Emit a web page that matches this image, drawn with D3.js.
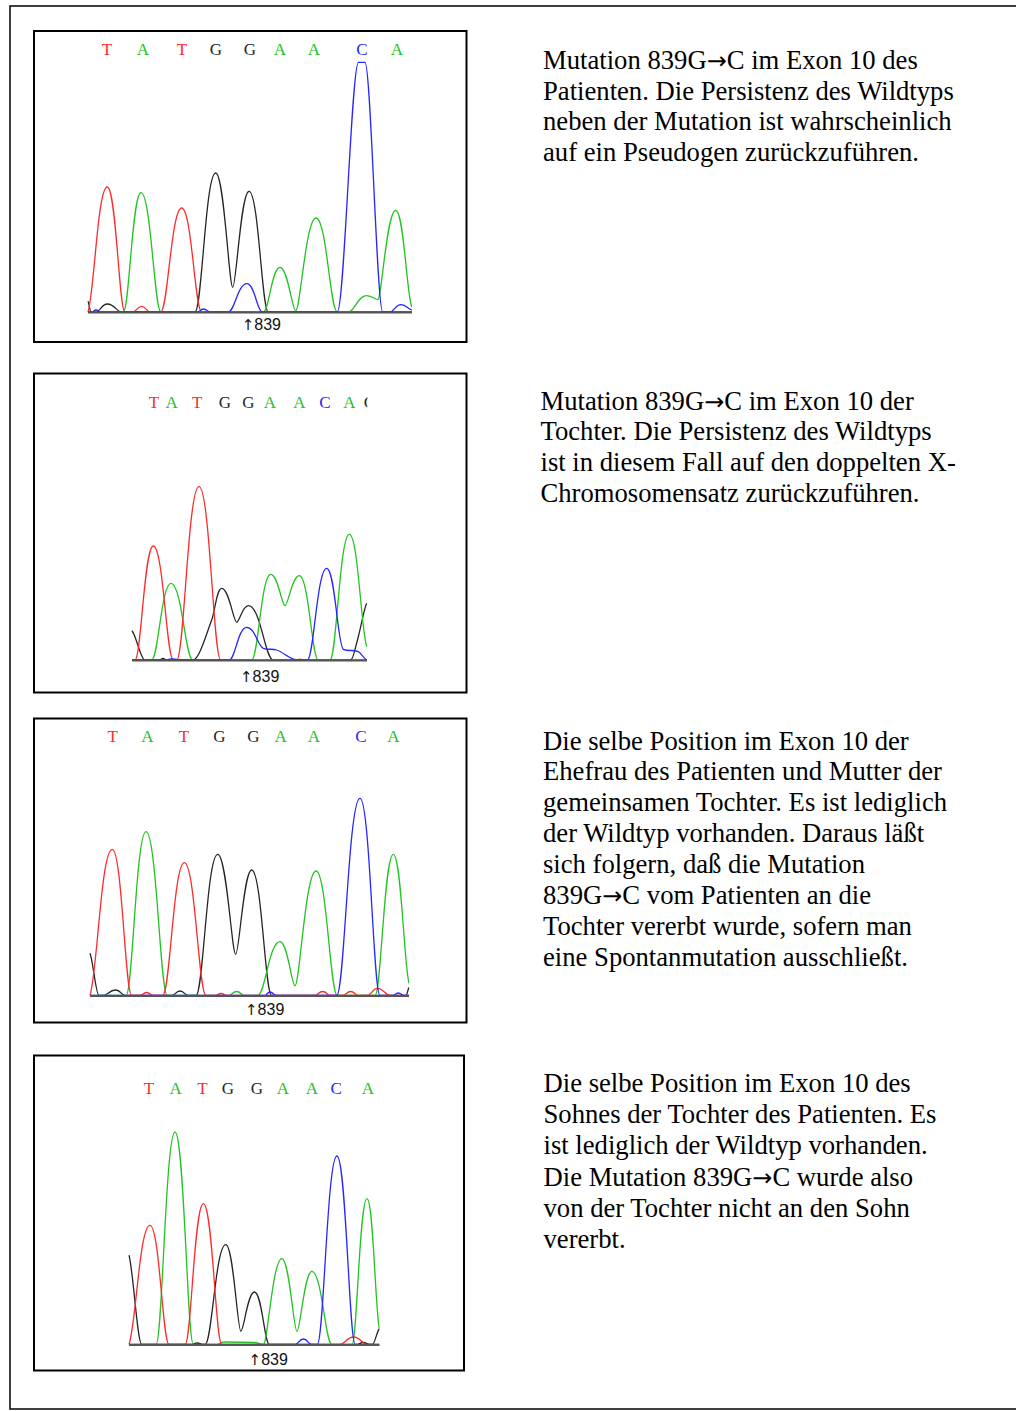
<!DOCTYPE html>
<html>
<head>
<meta charset="utf-8">
<script src="https://cdn.jsdelivr.net/npm/d3@7"></script>
<style>
  html, body { margin: 0; padding: 0; background: #fff; }
  svg { display: block; }
</style>
</head>
<body>
<svg id="chart" width="1016" height="1411"></svg>
<script>
// ---------------- DATA ----------------
// Base calls (sequence read) shown above every chromatogram
const bases = ["T", "A", "T", "G", "G", "A", "A", "C", "A"];
const p2Bases = ["T", "A", "T", "G", "G", "A", "A", "C", "A", "G"];

// Base-call scan positions per panel (scan units from start of the trace window)
const p1Calls = [19, 55, 94, 128, 162, 192, 226, 274, 309];
const p2Calls = [22, 39.7, 65.3, 93, 116.3, 138, 167.3, 193, 217.3, 238];
const p3Calls = [22.7, 57.3, 94, 129.3, 163.3, 190.7, 224, 271, 303.3];
const p4Calls = [20, 46.7, 73.3, 98.7, 127.7, 153.7, 182.7, 207, 238.7];

// Mutation position 839 (index of base call)
const mutationIndex = 4;
const mutationArrow = "\u2191";
const mutationNumber = "839";

// Trace knots: [scan, signal]
// Panel 1 – patient
const p1T = [[0,0],[19.3,125],[37,0],[45,0],[53.7,5.7],[62,0],[72.7,0],[93.7,104],[113.7,0],[324,0]];
const p1A = [[0,0],[35.3,0],[53,119.3],[73,0],[175.3,0],[192,44.7],[207.7,1],[228,94],[249.3,0],[260.3,0],[278.7,16.3],[289.7,12.3],[307.7,101.7],[323.7,5]];
const p1G = [[0,10.7],[3,0],[8,0],[19.3,8],[33.7,0],[107,0],[127.7,139],[144.7,24.7],[161,120.7],[180.3,0],[324,0]];
const p1C = [[0,0],[4,0],[8,2],[12,0],[110,0],[115.3,3],[122,0],[140.3,0],[159,28.3],[174.3,0],[249.3,0],[270.5,249.7],[277,249.7],[294.7,0],[302,0],[313,7.3],[323.7,2]];

// Panel 2 – daughter
const p2T = [[0,0],[3,0],[21.3,114],[41.3,0],[44.7,0],[67,173.3],[88.7,0],[165,0],[168,0.8],[171,0],[235,0]];
const p2A = [[0,0],[19.7,0],[39,76.7],[60.7,0],[119.7,0],[138.7,85.7],[153,54.3],[167.3,84.3],[186.3,0],[198,0],[217.3,125.7],[234.7,13.3]];
const p2G = [[0,29.3],[13,0],[28,0],[31,1.5],[34,0],[60.7,0],[79.7,40],[89.7,71.7],[104.7,37.7],[116.3,54.3],[141.3,0],[218.7,0],[226.3,23.3],[234.7,56.7]];
const p2C = [[0,0],[33,0],[40,1],[50,0],[97.3,0],[114.7,32.7],[131.3,11.7],[144.7,10],[161.3,1],[170,0],[175.3,0],[194.7,91.7],[211.3,10.7],[226.3,8.3],[234.7,0]];

// Panel 3 – wife
const p3T = [[0,0],[22.3,146.2],[41.7,0],[50,0],[56.7,3],[63,0],[72.7,0],[94.3,132.8],[116,0],[126,0],[131,2],[136,0],[225,0],[232.7,4],[240,0],[253,0],[260.7,4],[268,0],[278,0],[287.3,7.2],[300,0],[319,0]];
const p3A = [[0,0],[36,0],[56,163.8],[77.3,0],[139,0],[146.7,4],[154,0],[167.7,0],[190,53.8],[205,9.8],[226,124.5],[247.3,0],[285,0],[303.3,141.2],[319,12.2]];
const p3G = [[0,42.2],[9,0],[13,0],[25.7,5.5],[35,0],[82,0],[90,4.5],[98,0],[106,0],[127.7,141.2],[145.7,41.2],[161.7,125.5],[181.7,0],[316,0],[319,8]];
const p3C = [[0,0],[175,0],[180,3.5],[186,0],[246.7,0],[270,197.2],[290,0],[303,0],[308.3,2.5],[314,0],[319,0]];

// Panel 4 – grandson
const p4T = [[0,0],[21,119.2],[40,0],[56,0],[74.3,140.8],[92.7,0],[211,0],[224.3,7.5],[237.7,0],[250,0]];
const p4A = [[0,0],[27,0],[46,212.5],[64.3,0],[87.7,0],[95,2.5],[125,2],[134.3,0],[152.7,85.8],[167.7,13.2],[182.7,73.2],[202.7,0],[222.7,0],[237.7,145.8],[250,15.8]];
const p4G = [[0,89.2],[12.7,0],[63,0],[68,1.5],[74,0],[76,0],[96.7,99.8],[111.7,13.2],[125.3,52.5],[140.3,0],[228,0],[234,2],[240,0],[243,0],[250,15.8]];
const p4C = [[0,0],[166,0],[174.3,5.5],[182,0],[188,0],[207.7,188.5],[226,0],[250,0]];

// Captions (arrow marked as {→} so it can be set in a font that has the glyph)
const caption1 = [
  "Mutation 839G{\u2192}C im Exon 10 des",
  "Patienten. Die Persistenz des Wildtyps",
  "neben der Mutation ist wahrscheinlich",
  "auf ein Pseudogen zur\u00fcckzuf\u00fchren."
];
const caption2 = [
  "Mutation 839G{\u2192}C im Exon 10 der",
  "Tochter. Die Persistenz des Wildtyps",
  "ist in diesem Fall auf den doppelten X-",
  "Chromosomensatz zur\u00fcckzuf\u00fchren."
];
const caption3 = [
  "Die selbe Position im Exon 10 der",
  "Ehefrau des Patienten und Mutter der",
  "gemeinsamen Tochter. Es ist lediglich",
  "der Wildtyp vorhanden. Daraus l\u00e4\u00dft",
  "sich folgern, da\u00df die Mutation",
  "839G{\u2192}C vom Patienten an die",
  "Tochter vererbt wurde, sofern man",
  "eine Spontanmutation ausschlie\u00dft."
];
const caption4 = [
  "Die selbe Position im Exon 10 des",
  "Sohnes der Tochter des Patienten. Es",
  "ist lediglich der Wildtyp vorhanden.",
  "Die Mutation 839G{\u2192}C wurde also",
  "von der Tochter nicht an den Sohn",
  "vererbt."
];

// ---------------- LAYOUT / STYLE ----------------
const colors = { A: "#22c322", C: "#2626ff", G: "#262626", T: "#ff2a2a" };

const panels = [
  { box: [34, 31, 466.5, 342], x0: 88, x1: 412, len: 324, baseY: 312, letterY: 55.3, labelY: 330,
    traces: { A: p1A, C: p1C, G: p1G, T: p1T }, calls: p1Calls, seq: bases,
    caption: caption1, capX: 543, capY: 69, capLH: 30.7 },
  { box: [34, 373.5, 466.5, 692.5], x0: 132, x1: 367, len: 235, baseY: 660, letterY: 407.5, labelY: 681.5,
    traces: { A: p2A, C: p2C, G: p2G, T: p2T }, calls: p2Calls, seq: p2Bases,
    caption: caption2, capX: 540.5, capY: 409.5, capLH: 30.8 },
  { box: [34, 718.5, 466.5, 1022.5], x0: 90, x1: 409, len: 319, baseY: 995.5, letterY: 742.3, labelY: 1014.5,
    traces: { A: p3A, C: p3C, G: p3G, T: p3T }, calls: p3Calls, seq: bases,
    caption: caption3, capX: 543, capY: 749.5, capLH: 30.86 },
  { box: [34, 1055.5, 464, 1370.5], x0: 129, x1: 379.3, len: 250, baseY: 1344.5, letterY: 1094.3, labelY: 1364.5,
    traces: { A: p4A, C: p4C, G: p4G, T: p4T }, calls: p4Calls, seq: bases,
    caption: caption4, capX: 543.5, capY: 1092, capLH: 31.2 }
];

// ---------------- CURVE ----------------
// Smooth chromatogram-style path through knots (already scaled to pixels):
// monotone tangents, with rounder tops at maxima and tighter feet at the baseline.
function tracePath(pts) {
  const n = pts.length;
  const s = [];
  for (let i = 0; i < n - 1; i++) {
    const dx = pts[i + 1][0] - pts[i][0];
    s.push(dx === 0 ? 0 : (pts[i + 1][1] - pts[i][1]) / dx);
  }
  const m = new Array(n).fill(0);
  const kind = new Array(n).fill("mid");
  for (let i = 0; i < n; i++) {
    if (i === 0) { m[i] = s[0] * 0.5; continue; }
    if (i === n - 1) { m[i] = s[n - 2] * 0.5; continue; }
    const a = s[i - 1], b = s[i];
    if (a * b <= 0) {
      m[i] = 0;
      if (a < 0 && b > 0) kind[i] = "max";
      else if (a > 0 && b < 0) kind[i] = "min";
      else kind[i] = "flat";
    } else {
      let t = (a + b) / 2;
      const lim = 3 * Math.min(Math.abs(a), Math.abs(b));
      if (Math.abs(t) > lim) t = Math.sign(t) * lim;
      m[i] = t;
    }
  }
  const factor = (i) => {
    if (kind[i] === "max") return 0.5;
    if (kind[i] === "min") return 0.22;
    return 1 / 3;
  };
  const p = d3.path();
  p.moveTo(pts[0][0], pts[0][1]);
  for (let i = 0; i < n - 1; i++) {
    const [x0, y0] = pts[i], [x1, y1] = pts[i + 1];
    const dx = x1 - x0;
    const f0 = factor(i), f1 = factor(i + 1);
    p.bezierCurveTo(x0 + f0 * dx, y0 + f0 * dx * m[i], x1 - f1 * dx, y1 - f1 * dx * m[i + 1], x1, y1);
  }
  return p.toString();
}

// ---------------- DRAW ----------------
const svg = d3.select("#chart");

svg.append("rect")
  .attr("x", 10).attr("y", 6).attr("width", 1030).attr("height", 1403)
  .attr("fill", "none").attr("stroke", "#111").attr("stroke-width", 1.6);

const defs = svg.append("defs");

panels.forEach((p, i) => {
  const g = svg.append("g");
  const [bx0, by0, bx1, by1] = p.box;

  g.append("rect")
    .attr("x", bx0).attr("y", by0).attr("width", bx1 - bx0).attr("height", by1 - by0)
    .attr("fill", "#fff").attr("stroke", "#000").attr("stroke-width", 2);

  const x = d3.scaleLinear().domain([0, p.len]).range([p.x0, p.x1]);
  const y = d3.scaleLinear().domain([0, 300]).range([p.baseY, p.baseY - 300]);

  const clipId = "clip" + i;
  defs.append("clipPath").attr("id", clipId)
    .append("rect")
    .attr("x", p.x0 - 1).attr("y", by0 + 2)
    .attr("width", p.x1 - p.x0 + 1.5).attr("height", by1 - by0 - 4);

  const plot = g.append("g").attr("clip-path", `url(#${clipId})`);

  plot.selectAll("text.base")
    .data(p.seq.map((b, k) => ({ b, s: p.calls[k] })))
    .join("text")
    .attr("class", "base")
    .attr("x", d => x(d.s))
    .attr("y", p.letterY)
    .attr("text-anchor", "middle")
    .attr("font-family", "'Liberation Serif', 'Times New Roman', serif")
    .attr("font-size", 17)
    .attr("fill", d => colors[d.b])
    .text(d => d.b);

  ["G", "A", "T", "C"].forEach(ch => {
    plot.append("path")
      .datum(p.traces[ch].map(d => [x(d[0]), y(d[1])]))
      .attr("d", tracePath)
      .attr("fill", "none")
      .attr("stroke", colors[ch])
      .attr("stroke-width", 1.3)
      .attr("stroke-linejoin", "round");
  });

  g.append("line")
    .attr("x1", p.x0).attr("x2", p.x1)
    .attr("y1", p.baseY + 0.5).attr("y2", p.baseY + 0.5)
    .attr("stroke", "#555").attr("stroke-width", 2);

  const lbl = g.append("text")
    .attr("y", p.labelY)
    .attr("font-family", "'Liberation Sans', Arial, sans-serif")
    .attr("font-size", 16)
    .attr("fill", "#111");
  const arrow = lbl.append("tspan")
    .attr("font-family", "'DejaVu Sans', sans-serif")
    .attr("font-size", 15)
    .text(mutationArrow);
  lbl.append("tspan").text(mutationNumber);
  const aw = arrow.node().getComputedTextLength();
  lbl.attr("x", x(p.calls[mutationIndex]) - 2 - aw / 2);

  const cap = svg.append("text")
    .attr("font-family", "'Liberation Serif', 'Times New Roman', serif")
    .attr("font-size", 26.67)
    .attr("fill", "#000");
  p.caption.forEach((line, k) => {
    const t = cap.append("tspan").attr("x", p.capX).attr("y", p.capY + k * p.capLH);
    const parts = line.split(/\{|\}/);
    parts.forEach((part) => {
      if (!part) return;
      const sp = t.append("tspan").text(part);
      if (part === "\u2192") {
        sp.attr("font-family", "'DejaVu Sans', sans-serif").attr("font-size", 24);
      }
    });
  });
});
</script>
</body>
</html>
